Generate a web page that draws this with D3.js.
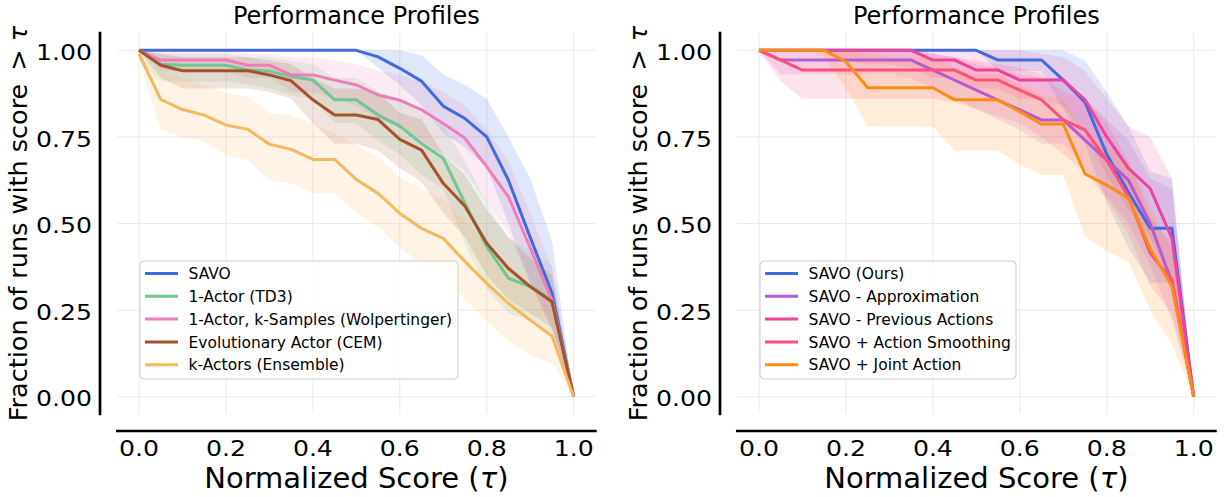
<!DOCTYPE html>
<html>
<head>
<meta charset="utf-8">
<script src="https://cdn.jsdelivr.net/npm/d3@7"></script>
<style>
  body { margin: 0; background: #fff; }
  text { font-family: "DejaVu Sans", sans-serif; fill: #000; }
</style>
</head>
<body>
<svg id="chart" width="1225" height="497"></svg>
<script>
// tau grid shared by every profile
const taus = [0, 0.05, 0.1, 0.15, 0.2, 0.25, 0.3, 0.35, 0.4, 0.45, 0.5,
              0.55, 0.6, 0.65, 0.7, 0.75, 0.8, 0.85, 0.9, 0.95, 1.0];
const xTicks = [0.0, 0.2, 0.4, 0.6, 0.8, 1.0];
const yTicks = [0.00, 0.25, 0.50, 0.75, 1.00];

// ---- left panel: baselines ----
const leftLabels = ["SAVO", "1-Actor (TD3)", "1-Actor, k-Samples (Wolpertinger)",
                    "Evolutionary Actor (CEM)", "k-Actors (Ensemble)"];
const leftColors = ["#4169E1", "#70C794", "#EF7DB8", "#A5512B", "#F6B75F"];

const savoMean = [1, 1, 1, 1, 1, 1, 1, 1, 1, 1, 1, 0.981, 0.948, 0.911, 0.839, 0.803, 0.75, 0.625, 0.46, 0.30, 0];
const savoLow  = [1, 1, 1, 1, 1, 1, 1, 1, 1, 1, 1, 0.95, 0.9, 0.84, 0.76, 0.72, 0.66, 0.5, 0.33, 0.2, 0];
const savoHigh = [1, 1, 1, 1, 1, 1, 1, 1, 1, 1, 1, 1, 1, 0.986, 0.93, 0.9, 0.86, 0.75, 0.63, 0.45, 0];

const td3Mean = [1, 0.96, 0.957, 0.957, 0.957, 0.943, 0.94, 0.924, 0.914, 0.857, 0.857, 0.813, 0.781, 0.731, 0.688, 0.558, 0.433, 0.342, 0.318, 0.279, 0];
const td3Low  = [0.97, 0.91, 0.91, 0.91, 0.91, 0.9, 0.89, 0.87, 0.86, 0.79, 0.79, 0.74, 0.7, 0.64, 0.6, 0.44, 0.31, 0.24, 0.22, 0.18, 0];
const td3High = [1, 0.99, 0.99, 0.99, 0.99, 0.98, 0.98, 0.97, 0.96, 0.92, 0.92, 0.88, 0.86, 0.82, 0.78, 0.68, 0.56, 0.46, 0.42, 0.38, 0];

const wolpMean = [1, 0.972, 0.972, 0.972, 0.972, 0.957, 0.957, 0.929, 0.929, 0.914, 0.9, 0.871, 0.856, 0.828, 0.789, 0.746, 0.664, 0.577, 0.43, 0.279, 0];
const wolpLow  = [1, 0.94, 0.94, 0.94, 0.94, 0.92, 0.92, 0.88, 0.88, 0.86, 0.84, 0.8, 0.78, 0.74, 0.7, 0.65, 0.56, 0.47, 0.33, 0.19, 0];
const wolpHigh = [1, 1, 1, 1, 1, 0.99, 0.99, 0.98, 0.98, 0.97, 0.96, 0.94, 0.93, 0.91, 0.88, 0.84, 0.77, 0.68, 0.53, 0.37, 0];

const cemMean = [1, 0.957, 0.941, 0.941, 0.941, 0.941, 0.929, 0.912, 0.857, 0.813, 0.813, 0.8, 0.743, 0.712, 0.616, 0.55, 0.443, 0.37, 0.318, 0.274, 0];
const cemLow  = [1, 0.92, 0.89, 0.89, 0.89, 0.89, 0.88, 0.86, 0.79, 0.73, 0.73, 0.71, 0.66, 0.62, 0.53, 0.46, 0.35, 0.28, 0.24, 0.2, 0];
const cemHigh = [1, 0.99, 0.98, 0.98, 0.98, 0.98, 0.97, 0.96, 0.92, 0.89, 0.89, 0.88, 0.82, 0.8, 0.7, 0.64, 0.54, 0.46, 0.4, 0.35, 0];

const ensMean = [0.99, 0.858, 0.829, 0.813, 0.784, 0.772, 0.729, 0.714, 0.685, 0.685, 0.627, 0.587, 0.529, 0.486, 0.457, 0.39, 0.327, 0.269, 0.221, 0.175, 0];
const ensLow  = [0.97, 0.77, 0.75, 0.736, 0.698, 0.683, 0.625, 0.616, 0.587, 0.587, 0.529, 0.49, 0.43, 0.38, 0.35, 0.28, 0.22, 0.16, 0.12, 0.096, 0];
const ensHigh = [1, 0.94, 0.92, 0.9, 0.876, 0.866, 0.818, 0.813, 0.789, 0.76, 0.727, 0.693, 0.635, 0.6, 0.57, 0.51, 0.44, 0.38, 0.33, 0.27, 0];

// ---- right panel: ablations ----
const rightLabels = ["SAVO (Ours)", "SAVO - Approximation", "SAVO - Previous Actions",
                     "SAVO + Action Smoothing", "SAVO + Joint Action"];
const rightColors = ["#4169E1", "#B65AD2", "#EF429D", "#FF4F7B", "#FF8C12"];

const oursMean = [1, 1, 1, 1, 1, 1, 1, 1, 1, 1, 1, 0.972, 0.972, 0.972, 0.914, 0.85, 0.70, 0.59, 0.486, 0.486, 0];
const oursLow  = [1, 1, 1, 1, 1, 1, 1, 1, 1, 1, 1, 0.94, 0.94, 0.94, 0.83, 0.73, 0.56, 0.43, 0.33, 0.33, 0];
const oursHigh = [1, 1, 1, 1, 1, 1, 1, 1, 1, 1, 1, 1, 1, 1, 1, 0.97, 0.88, 0.78, 0.65, 0.63, 0];

const approxMean = [1, 0.972, 0.972, 0.972, 0.972, 0.972, 0.972, 0.972, 0.943, 0.914, 0.885, 0.856, 0.828, 0.799, 0.799, 0.741, 0.683, 0.625, 0.5, 0.33, 0];
const approxLow  = [1, 0.93, 0.93, 0.93, 0.93, 0.93, 0.93, 0.92, 0.89, 0.86, 0.83, 0.8, 0.77, 0.73, 0.73, 0.66, 0.58, 0.5, 0.38, 0.22, 0];
const approxHigh = [1, 1, 1, 1, 1, 1, 1, 1, 0.99, 0.98, 0.96, 0.95, 0.93, 0.92, 0.92, 0.86, 0.8, 0.74, 0.63, 0.6, 0];

const prevMean = [1, 1, 1, 1, 1, 1, 1, 1, 0.972, 0.972, 0.943, 0.943, 0.914, 0.914, 0.914, 0.857, 0.75, 0.659, 0.601, 0.457, 0];
const prevLow  = [1, 1, 1, 1, 0.97, 0.96, 0.96, 0.95, 0.92, 0.92, 0.89, 0.89, 0.86, 0.86, 0.84, 0.76, 0.64, 0.54, 0.46, 0.33, 0];
const prevHigh = [1, 1, 1, 1, 1, 1, 1, 1, 1, 1, 1, 1, 1, 0.99, 0.98, 0.94, 0.86, 0.78, 0.75, 0.63, 0];

const smoothMean = [1, 0.972, 0.943, 0.943, 0.943, 0.943, 0.943, 0.943, 0.943, 0.943, 0.914, 0.914, 0.885, 0.857, 0.799, 0.77, 0.683, 0.577, 0.414, 0.337, 0];
const smoothLow  = [1, 0.91, 0.86, 0.86, 0.86, 0.86, 0.86, 0.86, 0.86, 0.85, 0.83, 0.81, 0.79, 0.75, 0.7, 0.65, 0.57, 0.47, 0.32, 0.24, 0];
const smoothHigh = [1, 1, 1, 1, 1, 1, 1, 1, 0.99, 0.98, 0.97, 0.96, 0.95, 0.93, 0.88, 0.86, 0.79, 0.68, 0.52, 0.44, 0];

const jointMean = [1, 1, 1, 1, 0.967, 0.892, 0.892, 0.892, 0.892, 0.857, 0.857, 0.857, 0.823, 0.787, 0.787, 0.643, 0.611, 0.573, 0.428, 0.318, 0];
const jointLow  = [1, 1, 1, 0.98, 0.89, 0.78, 0.78, 0.78, 0.78, 0.71, 0.71, 0.71, 0.67, 0.64, 0.64, 0.46, 0.42, 0.39, 0.25, 0.15, 0];
const jointHigh = [1, 1, 1, 1, 1, 0.99, 0.98, 0.98, 0.98, 0.95, 0.93, 0.93, 0.9, 0.87, 0.86, 0.76, 0.72, 0.68, 0.55, 0.42, 0];

const panels = [
  { offset: 0, labels: leftLabels, colors: leftColors, legendWidth: 318,
    series: [[savoMean, savoLow, savoHigh], [td3Mean, td3Low, td3High],
             [wolpMean, wolpLow, wolpHigh], [cemMean, cemLow, cemHigh],
             [ensMean, ensLow, ensHigh]] },
  { offset: 620, labels: rightLabels, colors: rightColors, legendWidth: 256,
    series: [[oursMean, oursLow, oursHigh], [approxMean, approxLow, approxHigh],
             [prevMean, prevLow, prevHigh], [smoothMean, smoothLow, smoothHigh],
             [jointMean, jointLow, jointHigh]] }
];

const svg = d3.select("#chart");
const tickStretch = 1.17; // reference tick labels are a bit wider than plain DejaVu

function drawPanel(p) {
  const g = svg.append("g").attr("transform", `translate(${p.offset},0)`);
  const x = d3.scaleLinear().domain([-0.05, 1.05]).range([117.3, 595.4]);
  const y = d3.scaleLinear().domain([-0.05, 1.05]).range([414, 33]);

  // grid
  g.append("g").selectAll("line").data(xTicks).join("line")
    .attr("x1", d => x(d)).attr("x2", d => x(d))
    .attr("y1", y(-0.05)).attr("y2", y(1.05))
    .attr("stroke", "#ebebeb").attr("stroke-width", 1.1);
  g.append("g").selectAll("line").data(yTicks).join("line")
    .attr("y1", d => y(d)).attr("y2", d => y(d))
    .attr("x1", x(-0.05)).attr("x2", x(1.05))
    .attr("stroke", "#ebebeb").attr("stroke-width", 1.1);

  const area = d3.area().x((d, i) => x(taus[i])).y0(d => y(d[0])).y1(d => y(d[1]));
  const line = d3.line().x((d, i) => x(taus[i])).y(d => y(d));

  // bands under every line (matplotlib zorder)
  p.series.forEach((s, k) => {
    g.append("path")
      .datum(s[1].map((lo, i) => [lo, s[2][i]]))
      .attr("d", area)
      .attr("fill", p.colors[k]).attr("fill-opacity", 0.16);
  });
  p.series.forEach((s, k) => {
    g.append("path")
      .datum(s[0])
      .attr("d", line)
      .attr("fill", "none")
      .attr("stroke", p.colors[k])
      .attr("stroke-width", 3)
      .attr("stroke-linejoin", "round");
  });

  // offset spines
  g.append("line").attr("x1", 100).attr("x2", 100).attr("y1", y(-0.05)).attr("y2", y(1.05))
    .attr("stroke", "#000").attr("stroke-width", 2.7).attr("stroke-linecap", "square");
  g.append("line").attr("y1", 431).attr("y2", 431).attr("x1", x(-0.05)).attr("x2", x(1.05))
    .attr("stroke", "#000").attr("stroke-width", 2.7).attr("stroke-linecap", "square");

  // tick labels
  g.append("g").selectAll("text").data(yTicks).join("text")
    .attr("transform", d => `translate(92,${y(d) + 9.8}) scale(${tickStretch},1)`)
    .attr("text-anchor", "end").style("font-size", "21.5px")
    .text(d => d.toFixed(2));
  g.append("g").selectAll("text").data(xTicks).join("text")
    .attr("transform", d => `translate(${x(d)},456) scale(${tickStretch},1)`)
    .attr("text-anchor", "middle").style("font-size", "21.5px")
    .text(d => d.toFixed(1));

  // titles
  g.append("text").attr("x", (x(-0.05) + x(1.05)) / 2).attr("y", 23.5)
    .attr("text-anchor", "middle").style("font-size", "24px")
    .text("Performance Profiles");

  const xl = g.append("text").attr("x", (x(-0.05) + x(1.05)) / 2).attr("y", 488)
    .attr("text-anchor", "middle").style("font-size", "29px");
  xl.append("tspan").text("Normalized Score (");
  xl.append("tspan").style("font-style", "italic").text("τ");
  xl.append("tspan").text(")");

  const yl = g.append("text")
    .attr("transform", `translate(27,${(y(-0.05) + y(1.05)) / 2}) rotate(-90)`)
    .attr("text-anchor", "middle").style("font-size", "25.5px");
  yl.append("tspan").text("Fraction of runs with score ");
  yl.append("tspan").attr("dx", 5).text("> ");
  yl.append("tspan").style("font-style", "italic").text("τ");

  // legend
  const lg = g.append("g").attr("transform", "translate(140,261)");
  lg.append("rect").attr("width", p.legendWidth).attr("height", 118)
    .attr("rx", 4).attr("fill", "#fff").attr("fill-opacity", 0.8)
    .attr("stroke", "#cccccc").attr("stroke-width", 1);
  p.labels.forEach((name, k) => {
    const ry = 12.5 + k * 22.8;
    lg.append("line").attr("x1", 5).attr("x2", 38).attr("y1", ry).attr("y2", ry)
      .attr("stroke", p.colors[k]).attr("stroke-width", 3);
    lg.append("text").attr("x", 48.5).attr("y", ry + 5.7)
      .style("font-size", "15.5px").text(name);
  });
}

panels.forEach(drawPanel);
</script>
</body>
</html>
